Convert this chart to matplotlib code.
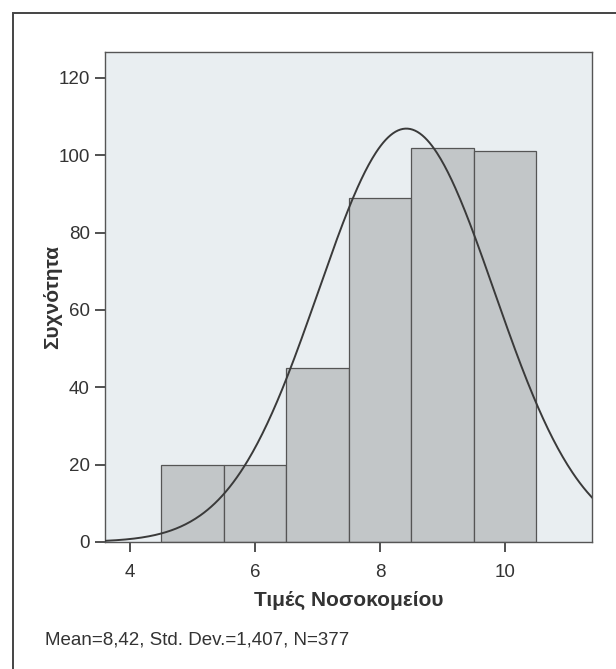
import numpy as np
import matplotlib.pyplot as plt
from matplotlib.patches import Rectangle

# histogram bins (SPSS style, width 1)
bin_left = [4.5, 5.5, 6.5, 7.5, 8.5, 9.5]
counts = [20, 20, 45, 89, 102, 101]
mean, sd, n = 8.42, 1.407, 377
x_ticks = [4, 6, 8, 10]
y_ticks = [0, 20, 40, 60, 80, 100, 120]

plt.rcParams['font.family'] = ['Liberation Sans', 'DejaVu Sans']

fig = plt.figure(figsize=(6.16, 6.69), dpi=100)
ax = fig.add_axes([105/616, 1-542/669, (592-105)/616, (542-52)/669])

# outer frame (left and top edges visible, rest cut off)
fig.patches.append(Rectangle((13/616, -0.1), 1.2, 1-13/669+0.1, transform=fig.transFigure,
                             fill=False, edgecolor='#444444', linewidth=1.4))

ax.set_facecolor('#e9eef1')
ax.bar(bin_left, counts, width=1.0, align='edge', color='#c2c6c8',
       edgecolor='#555555', linewidth=0.9, zorder=2)

xs = np.linspace(3.6, 11.39, 400)
ys = n * 1.0 / (sd * np.sqrt(2*np.pi)) * np.exp(-0.5*((xs-mean)/sd)**2)
ax.plot(xs, ys, color='#3a3a3a', linewidth=1.4, zorder=3)

ax.set_xlim(3.6, 11.39)
ax.set_ylim(0, 126.7)
ax.set_xticks(x_ticks)
ax.set_yticks(y_ticks)
ax.tick_params(direction='out', length=7, width=1.2, colors='#333333',
               labelsize=13.5)
ax.tick_params(axis='x', pad=9)
ax.tick_params(axis='y', pad=4)
for s in ax.spines.values():
    s.set_color('#555555')
    s.set_linewidth(1.0)

ax.set_xlabel('Τιμές Νοσοκομείου', fontsize=15, fontweight='bold', color='#333333', labelpad=7)
ax.set_ylabel('Συχνότητα', fontsize=15, fontweight='bold', color='#333333', labelpad=-3)

fig.text(45/616, 1-640/669, 'Mean=8,42, Std. Dev.=1,407, N=377', fontsize=13.5,
         color='#333333', va='center', ha='left')

fig.savefig('out.png', dpi=100)
